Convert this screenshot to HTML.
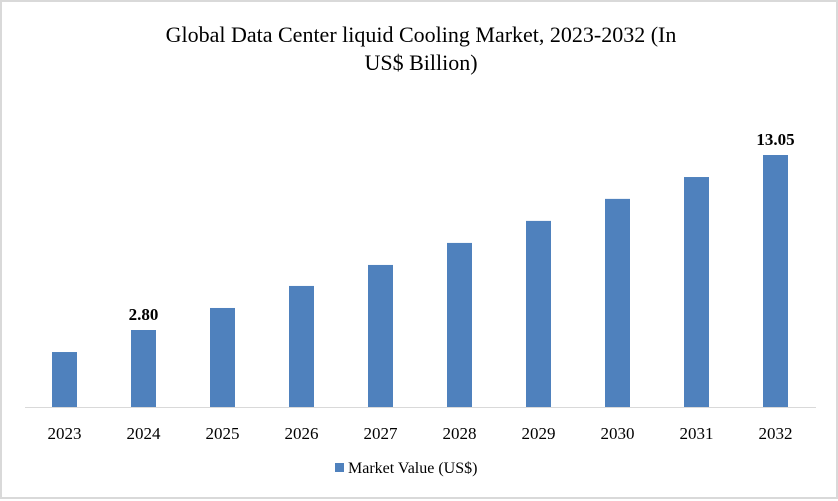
<!DOCTYPE html>
<html><head><meta charset="utf-8"><style>
body{margin:0;background:#fff;}
#c{position:relative;width:838px;height:499px;box-sizing:border-box;border:2px solid #d9d9d9;background:#fff;}
svg{position:absolute;left:0;top:0;}
text{font-family:"Liberation Serif",serif;}
</style></head><body>
<div id="c">
<svg id="s" width="838" height="499">
<text x="419" y="40" text-anchor="middle" font-size="22" fill="#000">Global Data Center liquid Cooling Market, 2023-2032 (In</text>
<text x="419" y="68" text-anchor="middle" font-size="22" fill="#000">US$ Billion)</text>
<line x1="23" y1="405.5" x2="814" y2="405.5" stroke="#d9d9d9" stroke-width="1"/>
<rect x="333" y="461" width="9" height="9" fill="#4f81bd"/>
<text x="346" y="471" font-size="16" fill="#000">Market Value (US$)</text>
</svg>
</div>
<script>
const categories=["2023","2024","2025","2026","2027","2028","2029","2030","2031","2032"];
const values=[1.51,2.80,4.09,5.38,6.61,7.90,9.19,10.48,11.76,13.05];
const labelFlags=[false,true,false,false,false,false,false,false,false,true];
const yMin=-1.71, yMax=13.05;
const svg=document.getElementById('s');
const NS='http://www.w3.org/2000/svg';
const baseY=405, topY=153, left=23, right=813;
function y(v){return baseY-(v-yMin)/(yMax-yMin)*(baseY-topY);}
function x(i){return left+(right-left)/categories.length*(i+0.5);}
const bw=25;
categories.forEach((c,i)=>{
  const r=document.createElementNS(NS,'rect');
  r.setAttribute('x',x(i)-bw/2);r.setAttribute('y',y(values[i]));
  r.setAttribute('width',bw);r.setAttribute('height',baseY-y(values[i]));
  r.setAttribute('fill','#4f81bd');
  
  
  svg.appendChild(r);
  const t=document.createElementNS(NS,'text');
  t.setAttribute('x',x(i));t.setAttribute('y',437);
  t.setAttribute('text-anchor','middle');t.setAttribute('font-size','17');
  t.textContent=c;
  
  
  svg.appendChild(t);
  if(labelFlags[i]){
    const l=document.createElementNS(NS,'text');
    l.setAttribute('x',x(i));l.setAttribute('y',y(values[i])-10);
    l.setAttribute('text-anchor','middle');l.setAttribute('font-size','17');
    l.setAttribute('font-weight','bold');
    l.textContent=values[i].toFixed(2);
    
    
    svg.appendChild(l);
  }
});
</script>
</body></html>
